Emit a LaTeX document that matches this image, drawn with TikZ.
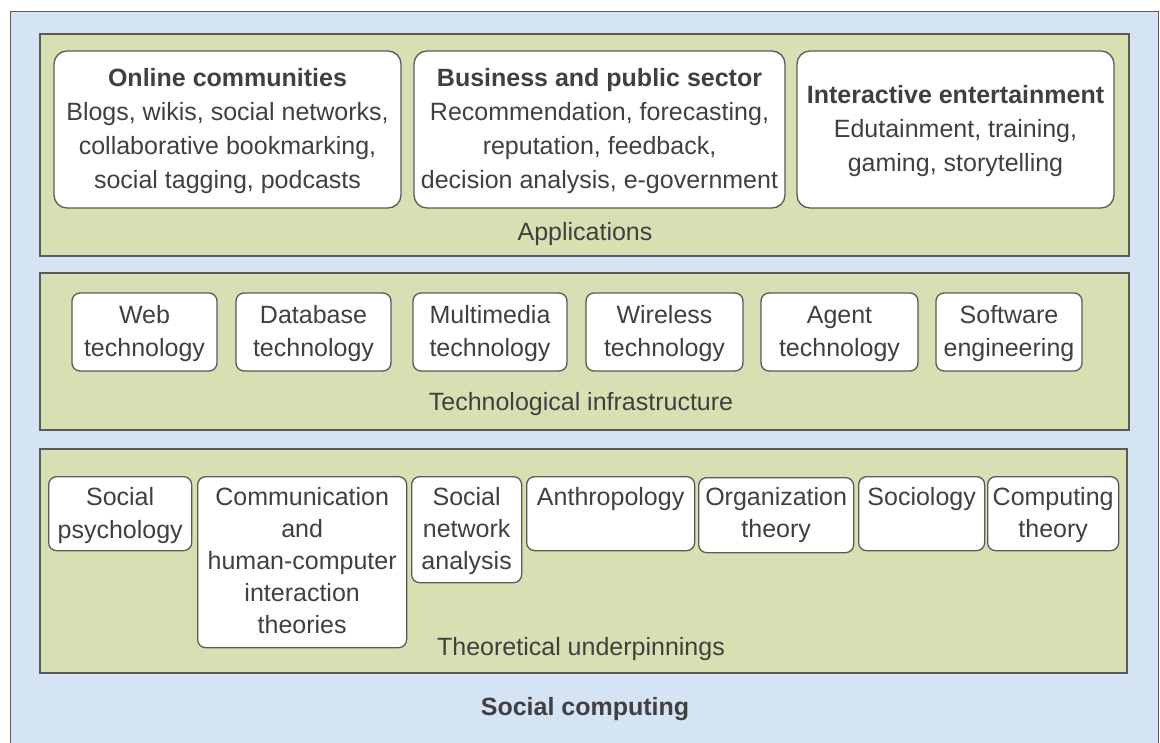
\documentclass[tikz,border=0pt]{standalone}
\usepackage{fontspec}
\setmainfont{Liberation Sans}
\definecolor{bgblue}{HTML}{D5E4F4}
\definecolor{panelgreen}{HTML}{D8DFB2}
\definecolor{edgegrey}{HTML}{5A5A5A}
\definecolor{txtgrey}{HTML}{404040}
\begin{document}
\begin{tikzpicture}[x=1pt,y=-1pt,
  every node/.style={text=txtgrey, font=\fontsize{25}{33}\selectfont},
  outerbox/.style={draw=edgegrey, line width=1.4pt, fill=bgblue},
  panel/.style={draw=edgegrey, line width=1.4pt, fill=panelgreen, inner sep=0pt},
  appbox/.style={draw=edgegrey, line width=1.3pt, fill=white, rounded corners=13pt, inner sep=0pt},
  smallbox/.style={draw=edgegrey, line width=1.3pt, fill=white, rounded corners=8pt, inner sep=0pt},
  boxtext/.style={align=center, inner sep=0pt},
  apptext/.style={align=center, inner sep=0pt, font=\fontsize{25}{34}\selectfont},
  toptext/.style={align=center, inner sep=0pt, anchor=north},
  caption/.style={inner sep=0pt}
]
\useasboundingbox (0,0) rectangle (1160,743);
\begin{scope}
\clip (0,0) rectangle (1160,743);
\node[outerbox, minimum width=1148pt, minimum height=750pt, anchor=north west] (outer) at (10,11) {};
\end{scope}

% panels
\node[panel, minimum width=1089pt, minimum height=222pt] (apppanel) at (584.5,145) {};
\node[panel, minimum width=1089pt, minimum height=157pt] (techpanel) at (584.5,351.5) {};
\node[panel, minimum width=1087pt, minimum height=224pt] (theorypanel) at (583.5,561) {};

% application boxes
\node[appbox, minimum width=347pt, minimum height=157pt] (oc) at (227.5,129.5) {};
\node[apptext] (octext) at ([yshift=-2pt]oc.center) {\textbf{Online communities}\\Blogs, wikis, social networks,\\collaborative bookmarking,\\social tagging, podcasts};
\node[appbox, minimum width=371pt, minimum height=157pt] (bp) at (599.5,129.5) {};
\node[apptext] (bptext) at ([yshift=-2pt]bp.center) {\textbf{Business and public sector}\\Recommendation, forecasting,\\reputation, feedback,\\decision analysis, e-government};
\node[appbox, minimum width=317pt, minimum height=157pt] (ie) at (955.5,129.5) {};
\node[apptext] (ietext) at ([yshift=-2pt]ie.center) {\textbf{Interactive entertainment}\\Edutainment, training,\\gaming, storytelling};
\node[caption] (applabel) at (585,234) {Applications};

% technology boxes
\node[smallbox, minimum width=145pt, minimum height=78pt] (web) at (144.5,332) {};
\node[boxtext] (webtext) at ([yshift=-2pt]web.center) {Web\\technology};
\node[smallbox, minimum width=155pt, minimum height=78pt] (db) at (313.5,332) {};
\node[boxtext] (dbtext) at ([yshift=-2pt]db.center) {Database\\technology};
\node[smallbox, minimum width=154pt, minimum height=78pt] (mm) at (490,332) {};
\node[boxtext] (mmtext) at ([yshift=-2pt]mm.center) {Multimedia\\technology};
\node[smallbox, minimum width=157pt, minimum height=78pt] (wl) at (664.5,332) {};
\node[boxtext] (wltext) at ([yshift=-2pt]wl.center) {Wireless\\technology};
\node[smallbox, minimum width=157pt, minimum height=78pt] (ag) at (839.5,332) {};
\node[boxtext] (agtext) at ([yshift=-2pt]ag.center) {Agent\\technology};
\node[smallbox, minimum width=146pt, minimum height=78pt] (sw) at (1009,332) {};
\node[boxtext] (swtext) at ([yshift=-2pt]sw.center) {Software\\engineering};
\node[caption] (techlabel) at (581,404) {Technological infrastructure};

% theory boxes
\node[smallbox, minimum width=143pt, minimum height=74pt, anchor=north west] (sp) at (48,476) {};
\node[toptext] (sptext) at ([yshift=-6pt]sp.north) {\strut Social\\psychology};
\node[smallbox, minimum width=209pt, minimum height=171pt, anchor=north west] (comm) at (197,476) {};
\node[toptext] (commtext) at ([yshift=-6pt]comm.north) {\strut Communication\\[-1pt]and\\[-1pt]human-computer\\[-1pt]interaction\\[-1pt]theories};
\node[smallbox, minimum width=110pt, minimum height=106pt, anchor=north west] (sna) at (411,476) {};
\node[toptext] (snatext) at ([yshift=-6pt]sna.north) {\strut Social\\[-1pt]network\\[-1pt]analysis};
\node[smallbox, minimum width=168pt, minimum height=74pt, anchor=north west] (anth) at (526,476) {};
\node[toptext] (anthtext) at ([yshift=-6pt]anth.north) {\strut Anthropology};
\node[smallbox, minimum width=155pt, minimum height=75pt, anchor=north west] (org) at (698,477) {};
\node[toptext] (orgtext) at ([yshift=-5pt]org.north) {\strut Organization\\[-1pt]theory};
\node[smallbox, minimum width=126pt, minimum height=74pt, anchor=north west] (soc) at (858,476) {};
\node[toptext] (soctext) at ([yshift=-6pt]soc.north) {\strut Sociology};
\node[smallbox, minimum width=131pt, minimum height=74pt, anchor=north west] (ct) at (987,476) {};
\node[toptext] (cttext) at ([yshift=-6pt]ct.north) {\strut Computing\\[-1pt]theory};
\node[caption] (theorylabel) at (581,649) {Theoretical underpinnings};

\node[caption, font=\fontsize{25}{33}\selectfont\bfseries] (sclabel) at (585,709) {Social computing};
\end{tikzpicture}
\end{document}
